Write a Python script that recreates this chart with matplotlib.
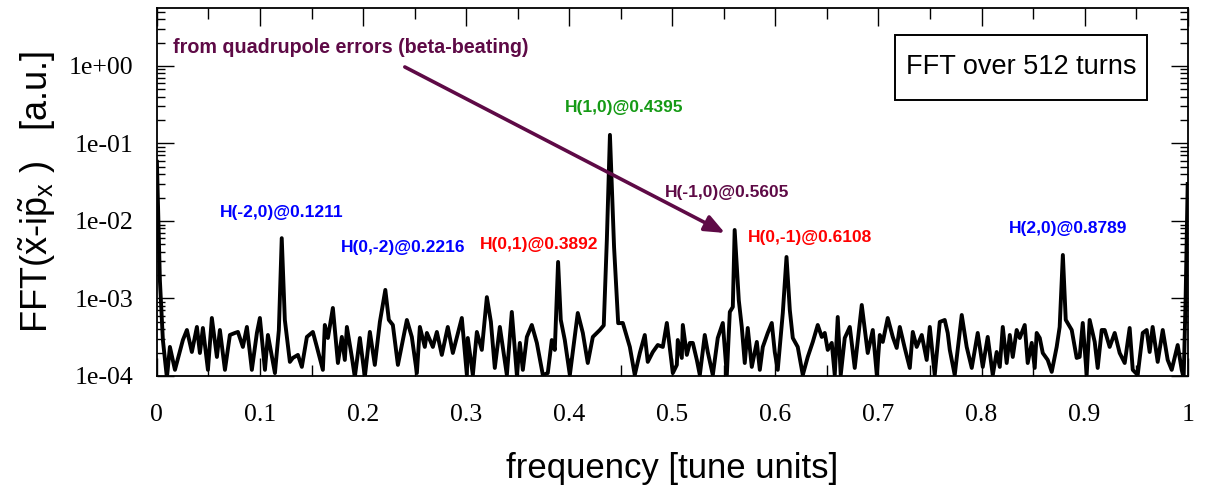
#!/usr/bin/env python3
"""FFT spectrum of a tracked particle over 512 turns, with resonance lines labelled."""

import matplotlib
matplotlib.use('Agg')
import matplotlib.pyplot as plt
from matplotlib.patches import Rectangle
from matplotlib.ticker import FixedLocator, LogLocator, NullFormatter

# ---------------------------------------------------------------------------
# Data
# ---------------------------------------------------------------------------
freq = [
    0.0000, 0.0029, 0.0058, 0.0097, 0.0126, 0.0175, 0.0252, 0.0291, 0.0339, 0.0388,
    0.0417, 0.0446, 0.0495, 0.0533, 0.0582, 0.0611, 0.0660, 0.0708, 0.0757, 0.0786,
    0.0834, 0.0873, 0.0921, 0.0970, 0.0999, 0.1048, 0.1077, 0.1145, 0.1183, 0.1211,
    0.1241, 0.1290, 0.1319, 0.1368, 0.1406, 0.1455, 0.1513, 0.1552, 0.1610, 0.1629,
    0.1659, 0.1707, 0.1756, 0.1794, 0.1823, 0.1843, 0.1891, 0.1920, 0.1969, 0.2017,
    0.2066, 0.2114, 0.2163, 0.2216, 0.2250, 0.2289, 0.2338, 0.2425, 0.2473, 0.2522,
    0.2551, 0.2599, 0.2619, 0.2677, 0.2716, 0.2764, 0.2822, 0.2871, 0.2958, 0.3007,
    0.3016, 0.3065, 0.3104, 0.3152, 0.3201, 0.3240, 0.3278, 0.3327, 0.3395, 0.3443,
    0.3492, 0.3521, 0.3550, 0.3589, 0.3637, 0.3686, 0.3744, 0.3792, 0.3831, 0.3860,
    0.3892, 0.3918, 0.3957, 0.4006, 0.4083, 0.4132, 0.4180, 0.4229, 0.4297, 0.4335,
    0.4365, 0.4395, 0.4435, 0.4475, 0.4520, 0.4588, 0.4636, 0.4685, 0.4733, 0.4762,
    0.4811, 0.4859, 0.4908, 0.4947, 0.5005, 0.5044, 0.5053, 0.5092, 0.5102, 0.5141,
    0.5170, 0.5199, 0.5238, 0.5267, 0.5315, 0.5344, 0.5393, 0.5441, 0.5490, 0.5529,
    0.5558, 0.5587, 0.5605, 0.5645, 0.5674, 0.5703, 0.5732, 0.5771, 0.5820, 0.5849,
    0.5878, 0.5926, 0.5965, 0.5994, 0.6023, 0.6072, 0.6108, 0.6140, 0.6169, 0.6217,
    0.6266, 0.6314, 0.6363, 0.6411, 0.6450, 0.6479, 0.6508, 0.6547, 0.6576, 0.6605,
    0.6634, 0.6673, 0.6722, 0.6770, 0.6838, 0.6896, 0.6945, 0.6984, 0.7013, 0.7042,
    0.7090, 0.7139, 0.7177, 0.7207, 0.7255, 0.7304, 0.7333, 0.7371, 0.7420, 0.7468,
    0.7498, 0.7546, 0.7595, 0.7643, 0.7672, 0.7692, 0.7740, 0.7808, 0.7856, 0.7905,
    0.7963, 0.8012, 0.8060, 0.8109, 0.8147, 0.8177, 0.8206, 0.8244, 0.8274, 0.8303,
    0.8341, 0.8371, 0.8419, 0.8448, 0.8487, 0.8516, 0.8535, 0.8565, 0.8594, 0.8642,
    0.8681, 0.8729, 0.8758, 0.8789, 0.8817, 0.8875, 0.8923, 0.8952, 0.8982, 0.9020,
    0.9049, 0.9098, 0.9127, 0.9166, 0.9195, 0.9243, 0.9292, 0.9340, 0.9389, 0.9437,
    0.9467, 0.9515, 0.9564, 0.9602, 0.9631, 0.9660, 0.9709, 0.9758, 0.9806, 0.9845,
    0.9903, 0.9942, 0.9961, 0.9980, 1.0000,
]

amp = [
    5.8e-2, 1.7e-3, 2.9e-4, 9.5e-5, 2.37e-4, 1.20e-4, 2.91e-4, 3.92e-4, 2.04e-4, 4.29e-4,
    1.98e-4, 4.16e-4, 1.20e-4, 5.60e-4, 1.76e-4, 3.92e-4, 1.20e-4, 3.38e-4, 3.59e-4, 3.70e-4,
    2.37e-4, 4.29e-4, 1.20e-4, 3.59e-4, 5.60e-4, 1.20e-4, 3.38e-4, 1.09e-4, 3.90e-4, 6.0e-3,
    5.30e-4, 1.52e-4, 1.71e-4, 1.87e-4, 1.31e-4, 3.19e-4, 3.70e-4, 2.37e-4, 1.20e-4, 4.55e-4,
    3.09e-4, 7.54e-4, 1.47e-4, 3.19e-4, 1.61e-4, 4.29e-4, 1.76e-4, 9.7e-5, 3.09e-4, 9.7e-5,
    3.70e-4, 1.39e-4, 4.98e-4, 1.29e-3, 5.30e-4, 4.55e-4, 1.39e-4, 5.28e-4, 3.19e-4, 1.09e-4,
    4.29e-4, 2.37e-4, 3.59e-4, 2.37e-4, 3.70e-4, 1.87e-4, 4.29e-4, 1.98e-4, 5.60e-4, 1.03e-4,
    3.09e-4, 1.03e-4, 3.70e-4, 2.17e-4, 1.04e-3, 5.0e-4, 1.27e-4, 4.29e-4, 1.03e-4, 6.70e-4,
    1.03e-4, 2.67e-4, 1.20e-4, 3.19e-4, 4.55e-4, 2.67e-4, 1.03e-4, 1.09e-4, 2.91e-4, 2.17e-4,
    2.96e-3, 5.30e-4, 2.91e-4, 1.03e-4, 6.50e-4, 3.59e-4, 1.47e-4, 3.19e-4, 3.92e-4, 4.5e-4,
    5.7e-3, 1.29e-1, 4.6e-3, 4.8e-4, 4.83e-4, 2.37e-4, 1.03e-4, 1.98e-4, 3.38e-4, 1.52e-4,
    2.04e-4, 2.51e-4, 2.37e-4, 4.83e-4, 1.09e-4, 1.39e-4, 2.91e-4, 1.71e-4, 4.55e-4, 1.87e-4,
    2.67e-4, 2.67e-4, 1.61e-4, 1.03e-4, 3.38e-4, 2.04e-4, 1.03e-4, 3.09e-4, 4.83e-4, 1.03e-4,
    6.70e-4, 7.77e-4, 7.65e-3, 9.5e-4, 4.29e-4, 1.47e-4, 4.16e-4, 1.31e-4, 2.75e-4, 1.20e-4,
    2.37e-4, 3.59e-4, 4.83e-4, 2.04e-4, 1.20e-4, 6.50e-4, 3.43e-3, 7.1e-4, 3.09e-4, 2.37e-4,
    1.03e-4, 1.76e-4, 2.75e-4, 4.55e-4, 3.19e-4, 3.59e-4, 2.17e-4, 2.67e-4, 1.03e-4, 5.77e-4,
    1.03e-4, 3.09e-4, 4.29e-4, 1.27e-4, 8.24e-4, 1.98e-4, 3.92e-4, 1.03e-4, 3.38e-4, 2.75e-4,
    5.60e-4, 3.19e-4, 2.30e-4, 4.29e-4, 2.30e-4, 1.27e-4, 3.70e-4, 2.37e-4, 3.38e-4, 1.61e-4,
    4.29e-4, 1.03e-4, 4.98e-4, 5.28e-4, 3.59e-4, 2.17e-4, 1.03e-4, 6.12e-4, 2.37e-4, 1.27e-4,
    3.59e-4, 1.31e-4, 3.19e-4, 1.03e-4, 2.04e-4, 1.31e-4, 4.29e-4, 1.47e-4, 3.38e-4, 1.76e-4,
    3.92e-4, 3.09e-4, 4.55e-4, 1.47e-4, 2.67e-4, 1.27e-4, 3.59e-4, 3.09e-4, 1.98e-4, 1.61e-4,
    1.13e-4, 2.37e-4, 4.29e-4, 3.64e-3, 5.30e-4, 3.92e-4, 1.71e-4, 1.76e-4, 4.83e-4, 1.03e-4,
    5.28e-4, 2.75e-4, 1.27e-4, 3.92e-4, 3.92e-4, 2.37e-4, 3.59e-4, 1.98e-4, 1.47e-4, 4.16e-4,
    1.20e-4, 1.03e-4, 3.59e-4, 3.92e-4, 2.04e-4, 4.29e-4, 1.52e-4, 3.92e-4, 1.61e-4, 1.20e-4,
    2.51e-4, 1.20e-4, 9.5e-5, 1.0e-3, 3.0e-2,
]

x_ticks = [0.0, 0.1, 0.2, 0.3, 0.4, 0.5, 0.6, 0.7, 0.8, 0.9, 1.0]
x_ticklabels = ['0', '0.1', '0.2', '0.3', '0.4', '0.5', '0.6', '0.7', '0.8', '0.9', '1']
y_ticks = [1e-4, 1e-3, 1e-2, 1e-1, 1e0]
y_ticklabels = ['1e-04', '1e-03', '1e-02', '1e-01', '1e+00']

# resonance labels: text, x (tune), y (a.u.), colour
line_labels = ['H(-2,0)@0.1211', 'H(0,-2)@0.2216', 'H(0,1)@0.3892', 'H(1,0)@0.4395',
               'H(-1,0)@0.5605', 'H(0,-1)@0.6108', 'H(2,0)@0.8789']
label_x = [0.1212, 0.2386, 0.3705, 0.4529, 0.5530, 0.6340, 0.8835]
label_y = [1.27e-2, 4.5e-3, 4.9e-3, 2.87e-1, 2.3e-2, 6.2e-3, 8.0e-3]
label_colors = ['#0000ff', '#0000ff', '#ff0000', '#159a15',
                '#5e0a46', '#ff0000', '#0000ff']

PURPLE = '#5e0a46'

# ---------------------------------------------------------------------------
# Style
# ---------------------------------------------------------------------------
plt.rcParams['mathtext.fontset'] = 'custom'
plt.rcParams['mathtext.rm'] = 'Liberation Sans'
plt.rcParams['mathtext.it'] = 'Liberation Sans'

fig = plt.figure(figsize=(12.07, 4.97), dpi=100)
ax = fig.add_axes([0.130, 0.2435, 0.854, 0.7405])

ax.plot(freq, amp, color='black', linewidth=2.8)

ax.set_yscale('log')
ax.set_xlim(0, 1)
ax.set_ylim(1e-4, 5.6)

ax.xaxis.set_major_locator(FixedLocator(x_ticks))
ax.set_xticklabels(x_ticklabels)
ax.xaxis.set_minor_locator(FixedLocator([0.05 + 0.1 * k for k in range(10)]))
ax.yaxis.set_major_locator(FixedLocator(y_ticks))
ax.set_yticklabels(y_ticklabels)
ax.yaxis.set_minor_locator(LogLocator(base=10, subs=range(2, 10)))
ax.yaxis.set_minor_formatter(NullFormatter())

for lab in ax.get_xticklabels() + ax.get_yticklabels():
    lab.set_fontfamily('Liberation Serif')
    lab.set_fontsize(18.5)

ax.tick_params(axis='both', which='both', direction='in',
               top=True, right=True, width=1.0)
ax.tick_params(axis='x', which='major', length=13, pad=20)
ax.tick_params(axis='x', which='minor', length=8)
ax.tick_params(axis='y', which='major', length=12, pad=17)
ax.tick_params(axis='y', which='minor', length=6)
for s in ax.spines.values():
    s.set_linewidth(1.3)

ax.set_xlabel('frequency [tune units]', fontsize=25, family='Liberation Sans',
              labelpad=19)
ax.set_ylabel(r'FFT($\tilde{\mathrm{x}}$-i$\tilde{\mathrm{p}}_\mathrm{x}$ )   [a.u.]',
              fontsize=26, family='Liberation Sans', labelpad=8)

# ---------------------------------------------------------------------------
# Annotations
# ---------------------------------------------------------------------------
ann_font = ['Liberation Sans Narrow', 'Liberation Sans']
for txt, lx, ly, c in zip(line_labels, label_x, label_y, label_colors):
    ax.text(lx, ly, txt, color=c, fontsize=12.5, fontweight='bold',
            family=ann_font, ha='center', va='center')

ax.text(0.0155, 1.72, 'from quadrupole errors (beta-beating)', color=PURPLE,
        fontsize=14.2, fontweight='bold', family=ann_font, ha='left', va='center')
ax.annotate('', xy=(0.551, 7.0e-3), xytext=(0.2405, 0.97),
            arrowprops=dict(arrowstyle='-|>,head_length=1.2,head_width=0.5',
                            color=PURPLE, lw=2.6, shrinkA=0, shrinkB=0))

ax.add_patch(Rectangle((0.716, 0.750), 0.245, 0.177, transform=ax.transAxes,
                       facecolor='white', edgecolor='black', linewidth=1.4,
                       zorder=4))
ax.text(0.8385, 0.8385, 'FFT over 512 turns', fontsize=19.5,
        family='Liberation Sans', ha='center', va='center',
        transform=ax.transAxes, zorder=5)

fig.savefig('out.png', dpi=100)
plt.close(fig)
